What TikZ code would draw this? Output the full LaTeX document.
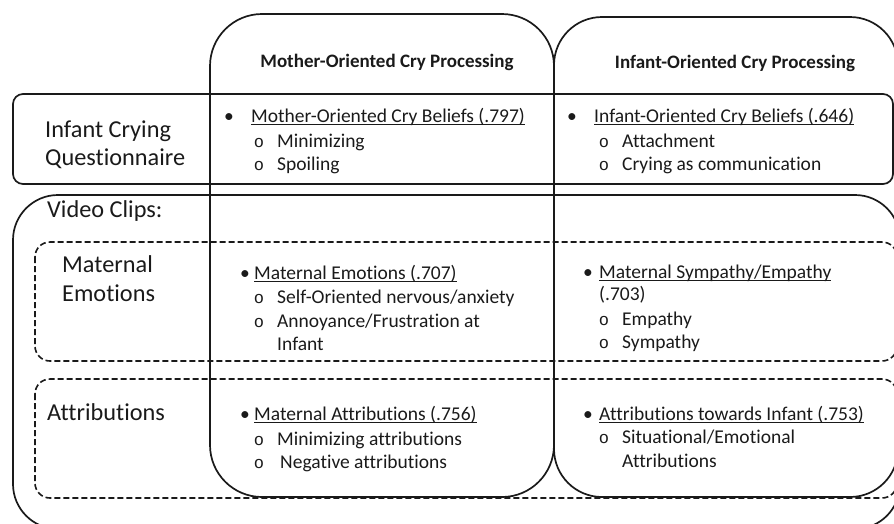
\documentclass[tikz,border=0pt]{standalone}
\usepackage{fontspec}
\setmainfont{Carlito}[Ligatures={NoCommon}]
\newfontfamily\subbulletfont{Liberation Mono}
\usepackage{xcolor}
\usepackage{tikz}

\definecolor{inkgray}{HTML}{1A1A1A}

\newcommand{\cellfont}{\fontsize{19.5}{23}\selectfont}
\newcommand{\headfont}{\fontsize{19}{23}\selectfont\bfseries}
\newcommand{\labelfont}{\fontsize{24.3}{28}\selectfont}
\newcommand{\ulbox}[1]{\sbox0{#1}\rlap{\rule[-2.6pt]{\wd0}{0.8pt}}\usebox0}

\tikzset{
  solidbox/.style={draw=inkgray, line width=1.7pt},
  dashbox/.style={draw=inkgray, line width=1.6pt, dash pattern=on 6pt off 3pt, rounded corners=15pt},
}

\begin{document}
\begin{tikzpicture}[x=1pt,y=-1pt]
\path[use as bounding box] (0,0) rectangle (894,523);
\clip (0,0) rectangle (894,523);

% columns
\draw[solidbox, rounded corners=52pt] (210,14) rectangle (554,497);
\draw[solidbox, rounded corners=48pt] (554,17) rectangle (898,497);

% rows
\draw[solidbox, rounded corners=10pt] (13,94) rectangle (893,184);
\draw[solidbox, rounded corners=45pt] (13,195) rectangle (900,529);
\draw[dashbox] (35,242) rectangle (897,361);
\draw[dashbox] (35,379) rectangle (897,498);

\begin{scope}[every node/.style={anchor=base, inner sep=0pt, text=inkgray, font=\headfont}]
\node (mother head) at (387,67) {Mother-Oriented Cry Processing};
\node (infant head) at (735,68) {Infant-Oriented Cry Processing};
\end{scope}

\begin{scope}[every node/.style={anchor=base west, inner sep=0pt, text=inkgray, font=\labelfont}]
\node (icq 1) at (45,137) {Infant Crying};
\node (icq 2) at (45,165) {Questionnaire};
\node (video) at (47,217) {Video Clips:};
\node (emo 1) at (62,272) {Maternal};
\node (emo 2) at (62,301) {Emotions};
\node (attr) at (47,420) {Attributions};
\end{scope}

% bullets
\begin{scope}[every node/.style={anchor=base, inner sep=0pt, text=inkgray, font=\cellfont}]
\node (dot mcb) at (229,122) {•};
\node (dot icb) at (572,122) {•};
\node (dot me) at (245,279) {•};
\node (dot ms) at (588,278) {•};
\node (dot ma) at (245,420) {•};
\node (dot ai) at (588,420) {•};
\end{scope}

\begin{scope}[every node/.style={anchor=base, inner sep=0pt, text=inkgray, font=\fontsize{17}{20}\subbulletfont}]
\foreach \px/\py [count=\i] in {259/147, 259/170, 604/147, 604/170, 259/303, 259/327,
    604/325, 604/348, 259/445, 259/468, 604/443}
  \node (circ \i) at (\px,\py) {o};
\end{scope}

\begin{scope}[every node/.style={anchor=base west, inner sep=0pt, text=inkgray, font=\cellfont}]
\node (mcb) at (251,122) {\ulbox{Mother-Oriented Cry Beliefs (.797)}};
\node (mcb 1) at (277,147) {Minimizing};
\node (mcb 2) at (277,170) {Spoiling};
\node (icb) at (594,122) {\ulbox{Infant-Oriented Cry Beliefs (.646)}};
\node (icb 1) at (622,147) {Attachment};
\node (icb 2) at (622,170) {Crying as communication};
\node (me) at (254,279) {\ulbox{Maternal Emotions (.707)}};
\node (me 1) at (277,303) {Self-Oriented nervous/anxiety};
\node (me 2) at (277,327) {Annoyance/Frustration at};
\node (me 3) at (277,350) {Infant};
\node (ms) at (599,278) {\ulbox{Maternal Sympathy/Empathy}};
\node (ms val) at (599,300) {(.703)};
\node (ms 1) at (622,325) {Empathy};
\node (ms 2) at (622,348) {Sympathy};
\node (ma) at (254,420) {\ulbox{Maternal Attributions (.756)}};
\node (ma 1) at (277,445) {Minimizing attributions};
\node (ma 2) at (280,468) {Negative attributions};
\node (ai) at (599,420) {\ulbox{Attributions towards Infant (.753)}};
\node (ai 1) at (622,443) {Situational/Emotional};
\node (ai 2) at (622,467) {Attributions};
\end{scope}

\end{tikzpicture}
\end{document}
